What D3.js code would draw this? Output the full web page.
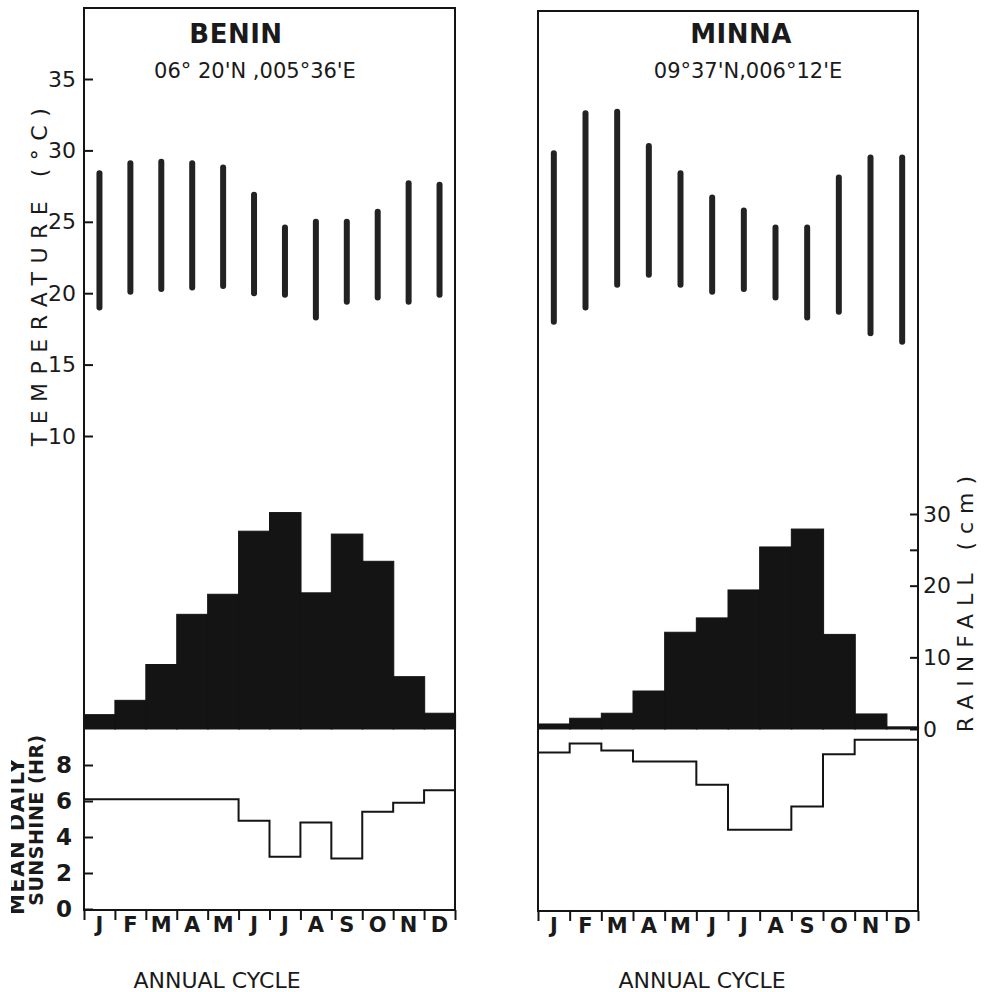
<!DOCTYPE html>
<html>
<head>
<meta charset="utf-8">
<script src="https://cdn.jsdelivr.net/npm/d3@7/dist/d3.min.js"></script>
<style>
  html, body { margin: 0; padding: 0; background: #fff; }
  svg { display: block; }
  text { fill: #1a1a1a; font-family: "DejaVu Sans", "Liberation Sans", sans-serif; }
</style>
</head>
<body>
<script>
// Monthly climate of two Nigerian stations
const months = ["J", "F", "M", "A", "M", "J", "J", "A", "S", "O", "N", "D"];

// Benin: daily temperature range (°C), rainfall (cm), sunshine (hr)
const beninTmin = [19.0, 20.1, 20.3, 20.4, 20.5, 20.0, 19.9, 18.3, 19.4, 19.7, 19.4, 19.9];
const beninTmax = [28.4, 29.1, 29.2, 29.1, 28.8, 26.9, 24.6, 25.0, 25.0, 25.7, 27.7, 27.6];
const beninRain = [2.0, 4.0, 9.0, 16.0, 18.8, 27.6, 30.2, 19.0, 27.2, 23.4, 7.3, 2.2];
const beninSun  = [6.1, 6.1, 6.1, 6.1, 6.1, 4.9, 2.9, 4.8, 2.8, 5.4, 5.9, 6.6];

// Minna
const minnaTmin = [18.0, 19.0, 20.6, 21.3, 20.6, 20.1, 20.3, 19.7, 18.3, 18.7, 17.2, 16.6];
const minnaTmax = [29.8, 32.6, 32.7, 30.3, 28.4, 26.7, 25.8, 24.6, 24.6, 28.1, 29.5, 29.5];
const minnaRain = [0.7, 1.5, 2.2, 5.3, 13.5, 15.5, 19.4, 25.4, 27.9, 13.2, 2.1, 0.3];
const minnaSun  = [8.7, 9.2, 8.8, 8.2, 8.2, 6.9, 4.4, 4.4, 5.7, 8.6, 9.4, 9.4];

// Axis ticks
const tempTicks = [10, 15, 20, 25, 30, 35];
const sunTicks = [0, 2, 4, 6, 8];
const rainTicks = [0, 10, 20, 25, 30];
const rainLabels = [0, 10, 20, 30];

const W = 987, H = 992;
const svg = d3.select("body").append("svg").attr("width", W).attr("height", H);

const panels = [
  { name: "BENIN", coord: "06° 20'N ,005°36'E", x0: 84, x1: 455, top: 8, bottom: 910,
    tmin: beninTmin, tmax: beninTmax, rain: beninRain, sun: beninSun,
    titleX: 236, coordX: 255, cycleX: 217 },
  { name: "MINNA", coord: "09°37'N,006°12'E", x0: 538, x1: 918, top: 11, bottom: 911,
    tmin: minnaTmin, tmax: minnaTmax, rain: minnaRain, sun: minnaSun,
    titleX: 741, coordX: 748, cycleX: 702 }
];

// Shared vertical scales
const yTemp = d3.scaleLinear().domain([10, 35]).range([436, 79]);
const yRain = d3.scaleLinear().domain([0, 30]).range([729, 514]);
const ySun  = d3.scaleLinear().domain([0, 8]).range([909, 765]);

const ink = "#141414";

panels.forEach((p) => {
  const g = svg.append("g");
  const xb = d3.scaleBand().domain(d3.range(12)).range([p.x0, p.x1]).padding(0);
  const xl = d3.scaleLinear().domain([0, 12]).range([p.x0, p.x1]);
  const bw = xb.bandwidth();

  // rainfall histogram
  g.append("g").selectAll("rect").data(p.rain).join("rect")
    .attr("x", (d, i) => xb(i))
    .attr("y", d => yRain(d))
    .attr("width", bw + 0.6)
    .attr("height", d => Math.max(yRain(0) - yRain(d), 1.5))
    .attr("fill", ink)
    .attr("stroke", ink)
    .attr("stroke-width", 1);

  // sunshine step line
  const sunPts = [];
  p.sun.forEach((v, i) => {
    sunPts.push([xb(i), ySun(v)]);
    sunPts.push([xb(i) + bw, ySun(v)]);
  });
  g.append("path")
    .attr("d", d3.line()(sunPts))
    .attr("fill", "none")
    .attr("stroke", ink)
    .attr("stroke-width", 2);

  // temperature range bars
  g.append("g").selectAll("line").data(d3.range(12)).join("line")
    .attr("x1", i => xb(i) + bw / 2)
    .attr("x2", i => xb(i) + bw / 2)
    .attr("y1", i => yTemp(p.tmax[i]))
    .attr("y2", i => yTemp(p.tmin[i]))
    .attr("stroke", "#222")
    .attr("stroke-width", 6)
    .attr("stroke-linecap", "round");

  // frame
  g.append("rect")
    .attr("x", p.x0).attr("y", p.top)
    .attr("width", p.x1 - p.x0).attr("height", p.bottom - p.top)
    .attr("fill", "none").attr("stroke", ink).attr("stroke-width", 2);

  // month boundary ticks
  const monthTicks = g.append("g")
    .attr("transform", `translate(0,${p.bottom})`)
    .call(d3.axisBottom(xl).tickValues(d3.range(13)).tickSize(10).tickFormat(""));
  monthTicks.select(".domain").remove();
  monthTicks.selectAll("line").attr("stroke", ink).attr("stroke-width", 2);

  // month labels
  const monthAxis = g.append("g")
    .attr("transform", `translate(0,${p.bottom})`)
    .call(d3.axisBottom(xb).tickSize(0).tickPadding(7).tickFormat(i => months[i]));
  monthAxis.select(".domain").remove();
  monthAxis.selectAll("text")
    .attr("font-size", 21).attr("font-weight", "bold")
    .attr("font-family", "'DejaVu Sans', sans-serif").attr("fill", ink);

  // titles
  g.append("text").attr("x", p.titleX).attr("y", 43)
    .attr("text-anchor", "middle").attr("font-size", 26).attr("font-weight", "bold")
    .attr("letter-spacing", 0.5).text(p.name);
  g.append("text").attr("x", p.coordX).attr("y", 78)
    .attr("text-anchor", "middle").attr("font-size", 21)
    .text(p.coord);

  g.append("text").attr("x", p.cycleX).attr("y", 988)
    .attr("text-anchor", "middle").attr("font-size", 22)
    .text("ANNUAL  CYCLE");
});

// temperature axis (left panel)
const tAxis = svg.append("g").attr("transform", "translate(84,0)")
  .call(d3.axisLeft(yTemp).tickValues(tempTicks).tickSizeInner(-9).tickSizeOuter(0).tickPadding(8));
tAxis.select(".domain").remove();
tAxis.selectAll("line").attr("stroke", ink).attr("stroke-width", 2);
tAxis.selectAll("text").attr("font-size", 22).attr("fill", ink)
  .attr("font-family", "'DejaVu Sans', sans-serif");

// sunshine axis (left panel)
const sAxis = svg.append("g").attr("transform", "translate(84,0)")
  .call(d3.axisLeft(ySun).tickValues(sunTicks).tickSizeInner(-9).tickSizeOuter(0).tickPadding(12));
sAxis.select(".domain").remove();
sAxis.selectAll("line").attr("stroke", ink).attr("stroke-width", 2);
sAxis.selectAll("text").attr("font-size", 23).attr("font-weight", "bold").attr("fill", ink)
  .attr("font-family", "'DejaVu Sans', sans-serif");

// rainfall axis (right panel)
const rAxis = svg.append("g").attr("transform", "translate(918,0)")
  .call(d3.axisRight(yRain).tickValues(rainTicks).tickSizeInner(-8).tickSizeOuter(0).tickPadding(5)
    .tickFormat(d => rainLabels.includes(d) ? d : ""));
rAxis.select(".domain").remove();
rAxis.selectAll("line").attr("stroke", ink).attr("stroke-width", 2);
rAxis.selectAll("text").attr("font-size", 22).attr("fill", ink)
  .attr("font-family", "'DejaVu Sans', sans-serif");

// axis titles
svg.append("text")
  .attr("transform", "translate(47,273) rotate(-90)")
  .attr("text-anchor", "middle").attr("font-size", 22).attr("letter-spacing", 8.5)
  .text("TEMPERATURE (°C)");

svg.append("text")
  .attr("transform", "translate(973,600) rotate(-90)")
  .attr("text-anchor", "middle").attr("font-size", 22).attr("letter-spacing", 8)
  .text("RAINFALL (cm)");

// left-edge clip: the outer caption line runs off the sheet
svg.append("defs").append("clipPath").attr("id", "leftEdge")
  .append("rect").attr("x", 11).attr("y", 0).attr("width", 60).attr("height", H);

svg.append("g").attr("clip-path", "url(#leftEdge)")
  .append("text")
  .attr("transform", "translate(24,836) rotate(-90)")
  .attr("text-anchor", "middle").attr("font-size", 21).attr("font-weight", "bold")
  .attr("letter-spacing", 1.5)
  .text("MEAN DAILY");

svg.append("text")
  .attr("transform", "translate(43,820) rotate(-90)")
  .attr("text-anchor", "middle").attr("font-size", 19).attr("font-weight", "bold")
  .attr("letter-spacing", 0.5)
  .text("SUNSHINE (HR)");
</script>
</body>
</html>
